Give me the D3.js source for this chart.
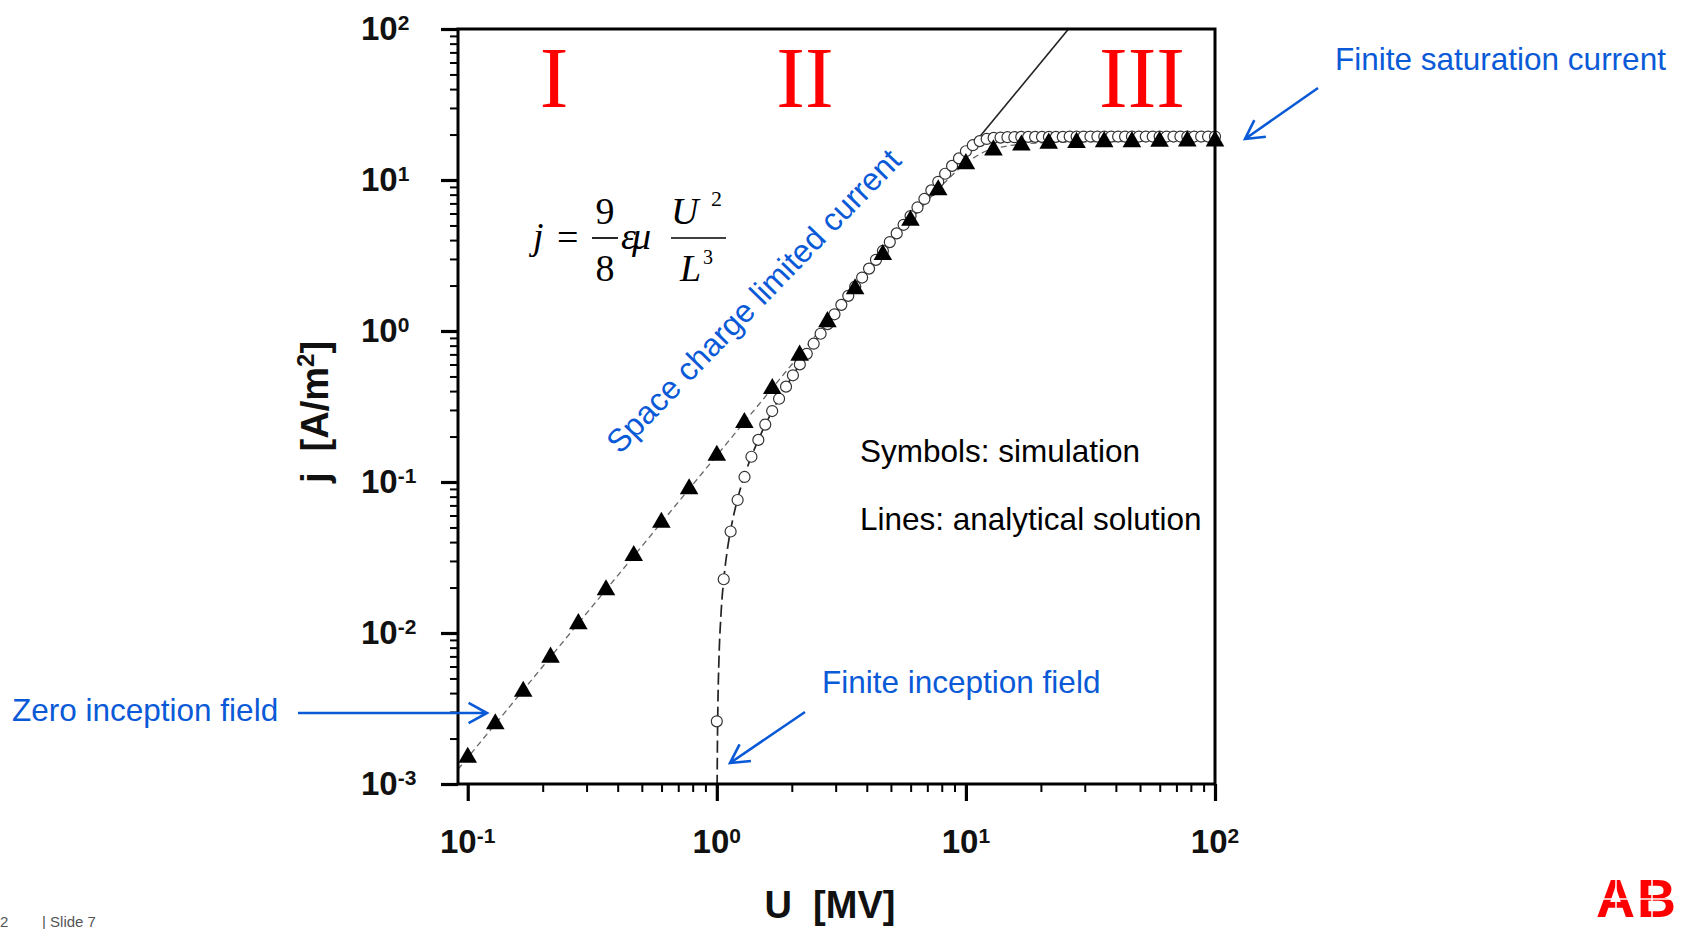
<!DOCTYPE html>
<html><head><meta charset="utf-8">
<script src="https://cdn.jsdelivr.net/npm/d3@7"></script>
<style>
html,body{margin:0;padding:0;background:#fff;overflow:hidden;}
svg{display:block;font-family:"Liberation Sans",Arial,sans-serif;}
</style></head><body>
<svg id="c" width="1686" height="929"></svg>
<script>
// ---- data ----
const triU = [0.1, 0.129, 0.167, 0.215, 0.278, 0.359, 0.464, 0.599, 0.774, 1.0, 1.29, 1.67, 2.15, 2.78, 3.59, 4.64, 5.99, 7.74, 10.0, 12.9, 16.7, 21.5, 27.8, 35.9, 46.4, 59.9, 77.4, 100];
const triJ = [0.0015, 0.0025, 0.0041, 0.0069, 0.0115, 0.0193, 0.0325, 0.054, 0.09, 0.15, 0.247, 0.415, 0.69, 1.15, 1.9, 3.2, 5.4, 8.6, 12.8, 15.8, 17.0, 17.5, 17.7, 17.9, 17.9, 18.0, 18.1, 18.1];

const circU = [1.000, 1.066, 1.136, 1.212, 1.292, 1.377, 1.468, 1.565, 1.668, 1.778, 1.896, 2.021, 2.154, 2.297, 2.448, 2.610, 2.783, 2.967, 3.162, 3.371, 3.594, 3.831, 4.084, 4.354, 4.642, 4.948, 5.275, 5.623, 5.995, 6.391, 6.813, 7.263, 7.743, 8.254, 8.799, 9.380, 10.00, 10.66, 11.36, 12.12, 12.92, 13.77, 14.68, 15.65, 16.68, 17.78, 18.96, 20.21, 21.54, 22.96, 24.48, 26.10, 27.83, 29.67, 31.62, 33.71, 35.94, 38.31, 40.84, 43.54, 46.42, 49.48, 52.75, 56.23, 59.95, 63.91, 68.13, 72.63, 77.43, 82.54, 87.99, 93.80, 100.0];
const circJ = [0.0026, 0.0227, 0.047, 0.076, 0.108, 0.147, 0.19, 0.24, 0.295, 0.356, 0.428, 0.509, 0.601, 0.706, 0.824, 0.959, 1.11, 1.29, 1.49, 1.71, 1.97, 2.26, 2.59, 2.96, 3.39, 3.88, 4.43, 5.05, 5.77, 6.58, 7.49, 8.54, 9.73, 11.0, 12.4, 13.9, 15.5, 17.0, 18.1, 18.7, 19.0, 19.1, 19.2, 19.2, 19.3, 19.3, 19.3, 19.3, 19.3, 19.3, 19.3, 19.4, 19.4, 19.4, 19.4, 19.4, 19.4, 19.4, 19.4, 19.4, 19.4, 19.4, 19.4, 19.4, 19.4, 19.4, 19.4, 19.4, 19.4, 19.4, 19.4, 19.4, 19.4];

// analytical solutions
const zeroU = [0.0914, 0.2, 0.5, 1, 2, 5, 8, 10, 12, 15, 20, 30, 100];
const zeroJ = [0.00125, 0.006, 0.0375, 0.15, 0.6, 3.75, 9.2, 12.9, 15.5, 16.9, 17.6, 17.9, 18.1];
const inceptU = [1.0001, 1.001, 1.003, 1.005, 1.01, 1.02, 1.04, 1.07, 1.1, 1.15, 1.2, 1.3, 1.4, 1.5, 1.7, 2.0, 2.5, 3, 4, 5, 6, 7, 8, 9, 10, 11, 12, 14, 20, 40, 100];
const inceptJ = [0.000033, 0.00033, 0.00099, 0.00165, 0.0033, 0.0067, 0.0135, 0.0239, 0.0347, 0.0532, 0.0726, 0.114, 0.158, 0.206, 0.312, 0.495, 0.866, 1.32, 2.48, 3.96, 5.78, 7.92, 10.3, 12.7, 15.4, 17.5, 18.6, 19.1, 19.3, 19.4, 19.4];
const sclcU = [9, 26];
const sclcJ = [12.15, 101.4];

const xMajor = [0.1, 1, 10, 100];
const xExp = ["-1", "0", "1", "2"];
const yMajor = [0.001, 0.01, 0.1, 1, 10, 100];
const yExp = ["-3", "-2", "-1", "0", "1", "2"];
const regionLabels = ["I", "II", "III"];

// ---- drawing ----
const svg = d3.select("#c");
const L = 458, R = 1215, T = 29, B = 784;
const x = d3.scaleLog().domain([0.0914, 100]).range([L, R]);
const y = d3.scaleLog().domain([0.001, 100]).range([B, T]);
const blue = "#0a5ad8";

svg.append("defs").append("clipPath").attr("id", "plot")
  .append("rect").attr("x", L).attr("y", T).attr("width", R - L).attr("height", B - T);

// lines
const line = d3.line().x(d => x(d[0])).y(d => y(d[1])).curve(d3.curveMonotoneX);
const lg = svg.append("g").attr("clip-path", "url(#plot)").attr("fill", "none");
lg.append("path").attr("d", line(zeroU.map((u, i) => [u, zeroJ[i]])))
  .attr("stroke", "#666").attr("stroke-width", 1.3).attr("stroke-dasharray", "6,4");
lg.append("path").attr("d", line(inceptU.map((u, i) => [u, inceptJ[i]])))
  .attr("stroke", "#222").attr("stroke-width", 1.7).attr("stroke-dasharray", "12,5");
lg.append("path").attr("d", line(sclcU.map((u, i) => [u, sclcJ[i]])))
  .attr("stroke", "#222").attr("stroke-width", 1.6);

// markers
svg.append("g").selectAll("path").data(circU.map((u, i) => [u, circJ[i]])).join("path")
  .attr("d", d3.symbol(d3.symbolCircle, 95))
  .attr("transform", d => `translate(${x(d[0])},${y(d[1])})`)
  .attr("fill", "#fff").attr("stroke", "#333").attr("stroke-width", 1.2);
svg.append("g").selectAll("path").data(triU.map((u, i) => [u, triJ[i]])).join("path")
  .attr("d", d3.symbol(d3.symbolTriangle, 150))
  .attr("transform", d => `translate(${x(d[0])},${y(d[1])})`)
  .attr("fill", "#000");

// frame
svg.append("rect").attr("x", L).attr("y", T).attr("width", R - L).attr("height", B - T)
  .attr("fill", "none").attr("stroke", "#000").attr("stroke-width", 3);

// axes
function styleAxis(g, w) {
  g.select(".domain").remove();
  g.selectAll(".tick line").attr("stroke", "#000").attr("stroke-width", w);
  g.selectAll(".tick text").remove();
}
const xMinor = x.ticks().filter(v => !xMajor.includes(v));
const yMinor = y.ticks().filter(v => !yMajor.some(m => Math.abs(m - v) < 1e-12));
svg.append("g").attr("transform", `translate(0,${B})`)
  .call(d3.axisBottom(x).tickValues(xMinor).tickSize(8).tickFormat(""))
  .call(g => styleAxis(g, 2));
svg.append("g").attr("transform", `translate(0,${B})`)
  .call(d3.axisBottom(x).tickValues(xMajor).tickSize(17).tickFormat(""))
  .call(g => styleAxis(g, 3.2));
svg.append("g").attr("transform", `translate(${L},0)`)
  .call(d3.axisLeft(y).tickValues(yMinor).tickSize(8).tickFormat(""))
  .call(g => styleAxis(g, 2));
svg.append("g").attr("transform", `translate(${L},0)`)
  .call(d3.axisLeft(y).tickValues(yMajor).tickSize(17).tickFormat(""))
  .call(g => styleAxis(g, 3.2));

// tick labels
function pow(sel) {
  sel.attr("font-weight", "bold").attr("font-size", 33).attr("fill", "#111");
  sel.append("tspan").text("10");
  sel.append("tspan").attr("font-size", 21).attr("dy", -10).text(d => d.e);
}
svg.append("g").selectAll("text").data(xMajor.map((v, i) => ({v, e: xExp[i]}))).join("text")
  .attr("x", d => x(d.v)).attr("y", 853).attr("text-anchor", "middle").call(pow);
svg.append("g").selectAll("text").data(yMajor.map((v, i) => ({v, e: yExp[i]}))).join("text")
  .attr("x", 361).attr("y", d => y(d.v) + 11).attr("text-anchor", "start").call(pow);

// axis titles
svg.append("text").attr("x", 830).attr("y", 918).attr("text-anchor", "middle")
  .attr("font-weight", "bold").attr("font-size", 38).attr("fill", "#111")
  .style("white-space", "pre").text("U  [MV]");
const yt = svg.append("text").attr("transform", "translate(328,412) rotate(-90)")
  .attr("text-anchor", "middle").attr("font-weight", "bold").attr("font-size", 38)
  .attr("fill", "#111").style("white-space", "pre");
yt.append("tspan").text("j  [A/m");
yt.append("tspan").attr("font-size", 24).attr("dy", -14).text("2");
yt.append("tspan").attr("dy", 14).text("]");

// region labels
const regX = [554, 805, 1142];
svg.append("g").selectAll("text").data(regionLabels).join("text")
  .attr("x", (d, i) => regX[i]).attr("y", 107).attr("text-anchor", "middle")
  .attr("font-family", "'Liberation Serif','Times New Roman',serif")
  .attr("font-size", 86).attr("fill", "#ff0000").text(d => d);

// formula
const f = svg.append("g").attr("font-family", "'Liberation Serif','Times New Roman',serif")
  .attr("font-size", 38).attr("fill", "#000");
f.append("text").attr("x", 533).attr("y", 249).attr("font-style", "italic").text("j");
f.append("text").attr("x", 557).attr("y", 250).text("=");
f.append("text").attr("x", 605).attr("y", 224).attr("text-anchor", "middle").text("9");
f.append("text").attr("x", 605).attr("y", 281).attr("text-anchor", "middle").text("8");
f.append("line").attr("x1", 592).attr("x2", 618).attr("y1", 238).attr("y2", 238).attr("stroke", "#000").attr("stroke-width", 1.7);
f.append("text").attr("x", 621).attr("y", 249).attr("font-style", "italic").attr("letter-spacing", -4).text("εμ");
f.append("text").attr("x", 671).attr("y", 224).attr("font-style", "italic").text("U");
f.append("text").attr("x", 711).attr("y", 206).attr("font-size", 22).text("2");
f.append("line").attr("x1", 671).attr("x2", 726).attr("y1", 238).attr("y2", 238).attr("stroke", "#000").attr("stroke-width", 1.7);
f.append("text").attr("x", 680).attr("y", 281).attr("font-style", "italic").text("L");
f.append("text").attr("x", 703).attr("y", 264).attr("font-size", 20).text("3");

// legend notes
svg.append("text").attr("x", 860).attr("y", 462).attr("font-size", 31.5).attr("fill", "#000").text("Symbols: simulation");
svg.append("text").attr("x", 860).attr("y", 530).attr("font-size", 31.5).attr("fill", "#000").text("Lines: analytical solution");

// blue annotations
const ann = svg.append("g").attr("fill", blue).attr("font-size", 31.5);
ann.append("text").attr("x", 1335).attr("y", 70).text("Finite saturation current");
ann.append("text").attr("x", 822).attr("y", 693).text("Finite inception field");
ann.append("text").attr("x", 12).attr("y", 721).text("Zero inception field");
ann.append("text").attr("transform", "translate(620,455) rotate(-46)").attr("font-size", 32).text("Space charge limited current");

function arrow(x1, y1, x2, y2) {
  const a = Math.atan2(y2 - y1, x2 - x1), len = 21, sp = 0.5;
  const p = d3.path();
  p.moveTo(x1, y1); p.lineTo(x2, y2);
  p.moveTo(x2 - len * Math.cos(a - sp), y2 - len * Math.sin(a - sp));
  p.lineTo(x2, y2);
  p.lineTo(x2 - len * Math.cos(a + sp), y2 - len * Math.sin(a + sp));
  svg.append("path").attr("d", p.toString()).attr("fill", "none").attr("stroke", blue)
    .attr("stroke-width", 2.6).attr("stroke-linejoin", "miter");
}
arrow(298, 713, 487, 713);
arrow(805, 712, 730, 763);
arrow(1318, 88, 1245, 139);

// slide footer
svg.append("text").attr("x", 0).attr("y", 927).attr("font-size", 15).attr("fill", "#555").text("2");
svg.append("text").attr("x", 42).attr("y", 927).attr("font-size", 15).attr("fill", "#555").text("| Slide 7");

// ABB logo (visible part at the slide's corner)
const abb = svg.append("g");
abb.append("text").attr("x", 1596).attr("y", 917).attr("font-weight", "bold").attr("font-size", 54)
  .attr("fill", "#ff0000").attr("letter-spacing", 2).text("AB");
abb.append("line").attr("x1", 1585).attr("x2", 1686).attr("y1", 899).attr("y2", 899).attr("stroke", "#fff").attr("stroke-width", 1.5);
abb.append("line").attr("x1", 1616).attr("x2", 1616).attr("y1", 870).attr("y2", 929).attr("stroke", "#fff").attr("stroke-width", 1.5);
abb.append("line").attr("x1", 1652).attr("x2", 1652).attr("y1", 870).attr("y2", 929).attr("stroke", "#fff").attr("stroke-width", 1.5);
</script>
</body></html>
